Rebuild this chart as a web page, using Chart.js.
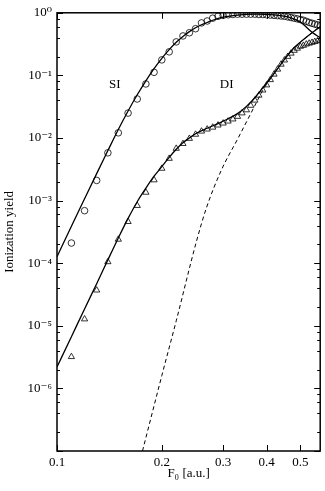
<!DOCTYPE html>
<html>
<head>
<meta charset="utf-8">
<script src="https://cdn.jsdelivr.net/npm/chart.js@4.4.0/dist/chart.umd.min.js"></script>
<style>
  body { margin: 0; background: #fff; }
  #wrap { width: 325px; height: 491px; }
</style>
</head>
<body>
<div id="wrap"><canvas id="myChart"></canvas></div>
<script>
// field values for the markers
const fieldPts = [0.11, 0.12, 0.13, 0.14, 0.15, 0.16, 0.17, 0.18, 0.19, 0.20,
  0.21, 0.22, 0.23, 0.24, 0.25, 0.26, 0.27, 0.28, 0.29, 0.30,
  0.31, 0.32, 0.33, 0.34, 0.35, 0.36, 0.37, 0.38, 0.39, 0.40,
  0.41, 0.42, 0.43, 0.44, 0.45, 0.46, 0.47, 0.48, 0.49, 0.50,
  0.51, 0.52, 0.53, 0.54, 0.55, 0.56, 0.57];

// single ionization (circles)
const siMarks = [2.1e-4, 6.9e-4, 2.1e-3, 5.8e-3, 1.21e-2, 2.5e-2, 4.2e-2, 7.3e-2, 0.112, 0.177,
  0.238, 0.343, 0.427, 0.48, 0.557, 0.69, 0.74, 0.82, 0.88, 0.91,
  0.93, 0.94, 0.95, 0.95, 0.95, 0.95, 0.95, 0.94, 0.94, 0.93,
  0.92, 0.91, 0.90, 0.89, 0.88, 0.86, 0.84, 0.82, 0.80, 0.78,
  0.76, 0.73, 0.70, 0.68, 0.66, 0.64, 0.62];

// double ionization (triangles)
const diMarks = [3.2e-6, 1.28e-5, 3.7e-5, 1.05e-4, 2.4e-4, 4.6e-4, 8.3e-4, 1.35e-3, 2.13e-3, 3.26e-3,
  4.7e-3, 6.8e-3, 8.1e-3, 9.8e-3, 0.0114, 0.0128, 0.0138, 0.0148, 0.016, 0.0172,
  0.0185, 0.020, 0.022, 0.025, 0.028, 0.033, 0.040, 0.048, 0.058, 0.070,
  0.085, 0.104, 0.125, 0.15, 0.175, 0.20, 0.225, 0.25, 0.27, 0.29,
  0.30, 0.315, 0.325, 0.335, 0.345, 0.355, 0.365];

// theory curves
const siCurveX = [0.1, 0.11, 0.12, 0.13, 0.14, 0.15, 0.16, 0.17, 0.18, 0.19, 0.20, 0.21, 0.22, 0.23, 0.24, 0.25, 0.26, 0.27, 0.28, 0.30, 0.33, 0.37, 0.42, 0.46, 0.50, 0.54, 0.57];
const siCurveY = [1.27e-4, 3.9e-4, 1.07e-3, 2.7e-3, 6.3e-3, 0.0137, 0.027, 0.049, 0.082, 0.128, 0.187, 0.258, 0.338, 0.42, 0.50, 0.577, 0.644, 0.70, 0.76, 0.85, 0.92, 0.95, 0.93, 0.86, 0.71, 0.49, 0.40];

const diCurveX = [0.1, 0.11, 0.12, 0.13, 0.14, 0.15, 0.16, 0.17, 0.18, 0.19, 0.20, 0.21, 0.22, 0.23, 0.24, 0.25, 0.27, 0.29, 0.31, 0.33, 0.35, 0.37, 0.39, 0.41, 0.43, 0.45, 0.475, 0.50, 0.54, 0.57];
const diCurveY = [2.2e-6, 6.7e-6, 1.86e-5, 4.7e-5, 1.13e-4, 2.53e-4, 5.2e-4, 9.6e-4, 1.58e-3, 2.45e-3, 3.5e-3, 4.9e-3, 6.6e-3, 8.4e-3, 0.010, 0.0117, 0.0143, 0.017, 0.0203, 0.0245, 0.032, 0.044, 0.063, 0.090, 0.128, 0.18, 0.262, 0.34, 0.48, 0.60];

// sequential DI (dashed)
const seqCurveX = [0.176, 0.2, 0.22, 0.2513, 0.2685, 0.2965, 0.3307, 0.369, 0.39, 0.41, 0.43, 0.45, 0.475, 0.50, 0.54, 0.57];
const seqCurveY = [1e-7, 1.6e-6, 1.2e-5, 2.2e-4, 7.6e-4, 3.07e-3, 9.8e-3, 0.032, 0.058, 0.088, 0.127, 0.18, 0.262, 0.34, 0.48, 0.60];

const xTicks = [0.1, 0.2, 0.3, 0.4, 0.5];
const yTicks = [1e-6, 1e-5, 1e-4, 1e-3, 1e-2, 1e-1, 1];
const yMinor = [2, 4, 6, 8];

const serif = "'Liberation Serif', 'DejaVu Serif', serif";
const sup = { '0': '⁰', '1': '¹', '2': '²', '3': '³', '4': '⁴', '5': '⁵', '6': '⁶', '7': '⁷', '8': '⁸', '9': '⁹', '-': '⁻' };

function pairs(xs, ys) {
  return xs.map((x, i) => ({ x: x, y: ys[i] }));
}

// frame, inward ticks and the SI / DI labels
const framePlugin = {
  id: 'frame',
  afterDraw(chart) {
    const c = chart.ctx;
    const a = chart.chartArea;
    const xs = chart.scales.x;
    const ys = chart.scales.y;
    c.save();
    c.strokeStyle = '#000';
    c.lineWidth = 1;
    c.beginPath();
    xTicks.forEach(v => {
      const px = Math.round(xs.getPixelForValue(v)) + 0.5;
      c.moveTo(px, a.bottom); c.lineTo(px, a.bottom - 6);
      c.moveTo(px, a.top); c.lineTo(px, a.top + 6);
    });
    for (let d = -7; d <= 0; d++) {
      const base = Math.pow(10, d);
      const py = Math.round(ys.getPixelForValue(base)) + 0.5;
      c.moveTo(a.left, py); c.lineTo(a.left + 6, py);
      c.moveTo(a.right, py); c.lineTo(a.right - 6, py);
      if (d < 0) {
        yMinor.forEach(m => {
          const pm = Math.round(ys.getPixelForValue(m * base)) + 0.5;
          c.moveTo(a.left, pm); c.lineTo(a.left + 3, pm);
          c.moveTo(a.right, pm); c.lineTo(a.right - 3, pm);
        });
      }
    }
    c.stroke();
    c.lineWidth = 1.5;
    c.strokeRect(a.left, a.top, a.right - a.left, a.bottom - a.top);

    c.fillStyle = '#000';
    c.font = '13px ' + serif;
    c.textAlign = 'center';
    c.textBaseline = 'middle';
    c.fillText('SI', xs.getPixelForValue(0.1466), ys.getPixelForValue(0.072));
    c.fillText('DI', xs.getPixelForValue(0.307), ys.getPixelForValue(0.072));
    c.restore();
  }
};

const ctx = document.getElementById('myChart');

new Chart(ctx, {
  type: 'scatter',
  data: {
    datasets: [
      {
        label: 'SI',
        data: pairs(fieldPts, siMarks),
        pointStyle: 'circle',
        pointRadius: 3.3,
        borderColor: '#000',
        backgroundColor: 'rgba(0,0,0,0)',
        pointBorderWidth: 0.8,
        showLine: false
      },
      {
        label: 'DI',
        data: pairs(fieldPts, diMarks),
        pointStyle: 'triangle',
        pointRadius: 3.6,
        borderColor: '#000',
        backgroundColor: 'rgba(0,0,0,0)',
        pointBorderWidth: 0.8,
        showLine: false
      },
      {
        label: 'SI theory',
        data: pairs(siCurveX, siCurveY),
        showLine: true,
        pointRadius: 0,
        borderColor: '#000',
        borderWidth: 1.3,
        cubicInterpolationMode: 'monotone'
      },
      {
        label: 'DI theory',
        data: pairs(diCurveX, diCurveY),
        showLine: true,
        pointRadius: 0,
        borderColor: '#000',
        borderWidth: 1.3,
        cubicInterpolationMode: 'monotone'
      },
      {
        label: 'sequential',
        data: pairs(seqCurveX, seqCurveY),
        showLine: true,
        pointRadius: 0,
        borderColor: '#000',
        borderWidth: 1,
        borderDash: [4, 3],
        cubicInterpolationMode: 'monotone',
        clip: 0
      }
    ]
  },
  options: {
    responsive: true,
    maintainAspectRatio: false,
    animation: false,
    layout: { padding: { left: 0, right: 4, top: 10, bottom: 0 } },
    plugins: {
      legend: { display: false },
      tooltip: { enabled: false }
    },
    scales: {
      x: {
        type: 'logarithmic',
        min: 0.1,
        max: 0.57,
        grid: { display: false, drawTicks: false },
        border: { display: false },
        afterBuildTicks: s => { s.ticks = xTicks.map(v => ({ value: v })); },
        afterFit: s => { s.height = 40; },
        ticks: {
          color: '#000',
          padding: 4,
          maxRotation: 0,
          font: { family: serif, size: 13 },
          callback: v => v.toFixed(1)
        },
        title: {
          display: true,
          text: 'F₀ [a.u.]',
          color: '#000',
          font: { family: serif, size: 13 },
          padding: { top: 0, bottom: 10 }
        }
      },
      y: {
        type: 'logarithmic',
        min: 1e-7,
        max: 1,
        grid: { display: false, drawTicks: false },
        border: { display: false },
        afterBuildTicks: s => { s.ticks = yTicks.map(v => ({ value: v })); },
        afterFit: s => { s.width = 57; },
        ticks: {
          color: '#000',
          padding: 5,
          font: { family: serif, size: 13 },
          callback: v => '10' + String(Math.round(Math.log10(v))).split('').map(ch => sup[ch]).join('')
        },
        title: {
          display: true,
          text: 'Ionization yield',
          color: '#000',
          font: { family: serif, size: 13 },
          padding: { top: 2, bottom: 0 }
        }
      }
    }
  },
  plugins: [framePlugin]
});
</script>
</body>
</html>
